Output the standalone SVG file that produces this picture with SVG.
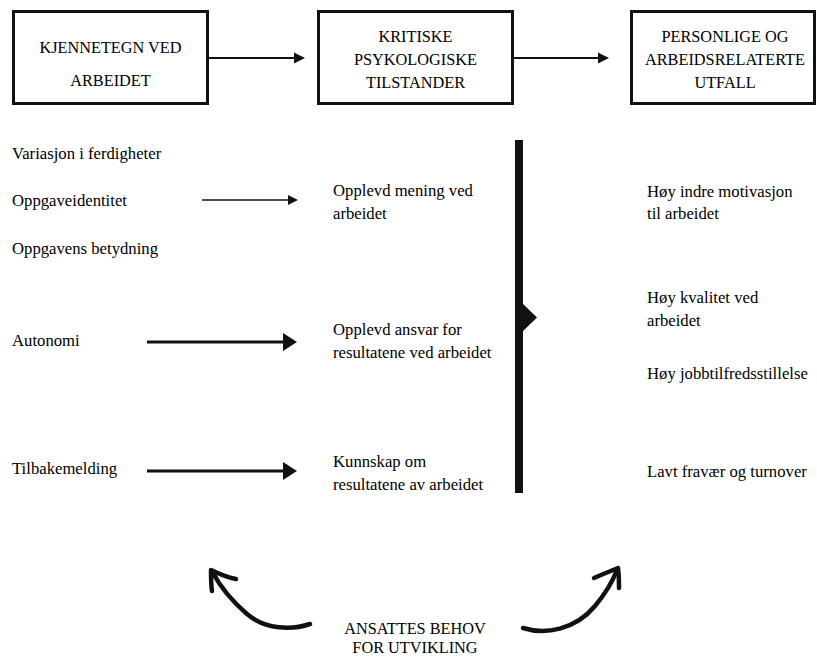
<svg xmlns="http://www.w3.org/2000/svg" width="817" height="659" viewBox="0 0 817 659">
<style>
text{font-family:"Liberation Serif","Times New Roman",serif;fill:#000;}
.h{font-size:16.3px;text-anchor:middle;}
.t{font-size:16.7px;}
.box{fill:#fff;stroke:#111;stroke-width:3;}
.ln{stroke:#111;fill:none;}
.curve{stroke:#111;fill:none;stroke-width:4.5;stroke-linecap:round;stroke-linejoin:round;}
</style>
<rect width="817" height="659" fill="#fff"/>
<g id="node-kjennetegn">
<rect class="box" x="13.5" y="11.5" width="194" height="92"/>
<text class="h" x="110.5" y="53">KJENNETEGN VED</text>
<text class="h" x="110.5" y="86">ARBEIDET</text>
</g>
<g id="node-kritiske">
<rect class="box" x="318.5" y="11.5" width="194" height="92"/>
<text class="h" x="415.5" y="42">KRITISKE</text>
<text class="h" x="415.5" y="65">PSYKOLOGISKE</text>
<text class="h" x="415.5" y="88">TILSTANDER</text>
</g>
<g id="node-utfall">
<rect class="box" x="631.5" y="11.5" width="183" height="92"/>
<text class="h" x="725" y="42">PERSONLIGE OG</text>
<text class="h" x="725" y="65">ARBEIDSRELATERTE</text>
<text class="h" x="725" y="88">UTFALL</text>
</g>
<g id="node-kjennetegn-list">
<text class="t" x="12" y="159">Variasjon i ferdigheter</text>
<text class="t" x="12" y="206">Oppgaveidentitet</text>
<text class="t" x="12" y="254">Oppgavens betydning</text>
<text class="t" x="12" y="346">Autonomi</text>
<text class="t" x="12" y="474">Tilbakemelding</text>
</g>
<g id="node-tilstander-list">
<text class="t" x="333" y="196">Opplevd mening ved</text>
<text class="t" x="333" y="219">arbeidet</text>
<text class="t" x="333" y="335">Opplevd ansvar for</text>
<text class="t" x="333" y="358">resultatene ved arbeidet</text>
<text class="t" x="333" y="467">Kunnskap om</text>
<text class="t" x="333" y="490">resultatene av arbeidet</text>
</g>
<g id="node-utfall-list">
<text class="t" x="647" y="197">Høy indre motivasjon</text>
<text class="t" x="647" y="219">til arbeidet</text>
<text class="t" x="647" y="303">Høy kvalitet ved</text>
<text class="t" x="647" y="326">arbeidet</text>
<text class="t" x="647" y="379">Høy jobbtilfredsstillelse</text>
<text class="t" x="647" y="477">Lavt fravær og turnover</text>
</g>
<g id="node-behov">
<text class="h" x="415" y="634">ANSATTES BEHOV</text>
<text class="h" x="415" y="653">FOR UTVIKLING</text>
</g>
<g id="connectors">
<line class="ln" x1="209" y1="58" x2="295" y2="58" stroke-width="2"/>
<polygon points="294,52.5 305,58 294,63.5" fill="#111"/>
<line class="ln" x1="514" y1="58" x2="599" y2="58" stroke-width="2"/>
<polygon points="598,52.5 609,58 598,63.5" fill="#111"/>
<line class="ln" x1="202" y1="200" x2="290" y2="200" stroke-width="1.5"/>
<polygon points="288,195 298,200 288,205" fill="#111"/>
<line class="ln" x1="147" y1="342" x2="284" y2="342" stroke-width="3"/>
<polygon points="283,333 297,342 283,351" fill="#111"/>
<line class="ln" x1="147" y1="471" x2="284" y2="471" stroke-width="3"/>
<polygon points="283,462 297,471 283,480" fill="#111"/>
<rect x="515" y="140" width="8" height="353" fill="#111"/>
<polygon points="522,303 537,317.5 522,332" fill="#111"/>
<path class="curve" d="M310,624 C292,630 266,630 247,614 C232,601 221,588 213,573"/>
<path class="curve" d="M236,579 C226,577 217,573 211,570 C211,578 211,585 212,591"/>
<path class="curve" d="M523,628 C545,635 575,630 595,606 C605,594 612,583 617,570"/>
<path class="curve" d="M594,578 C603,574 611,571 618,568 C619,575 619,582 619,588"/>
</g>
</svg>
